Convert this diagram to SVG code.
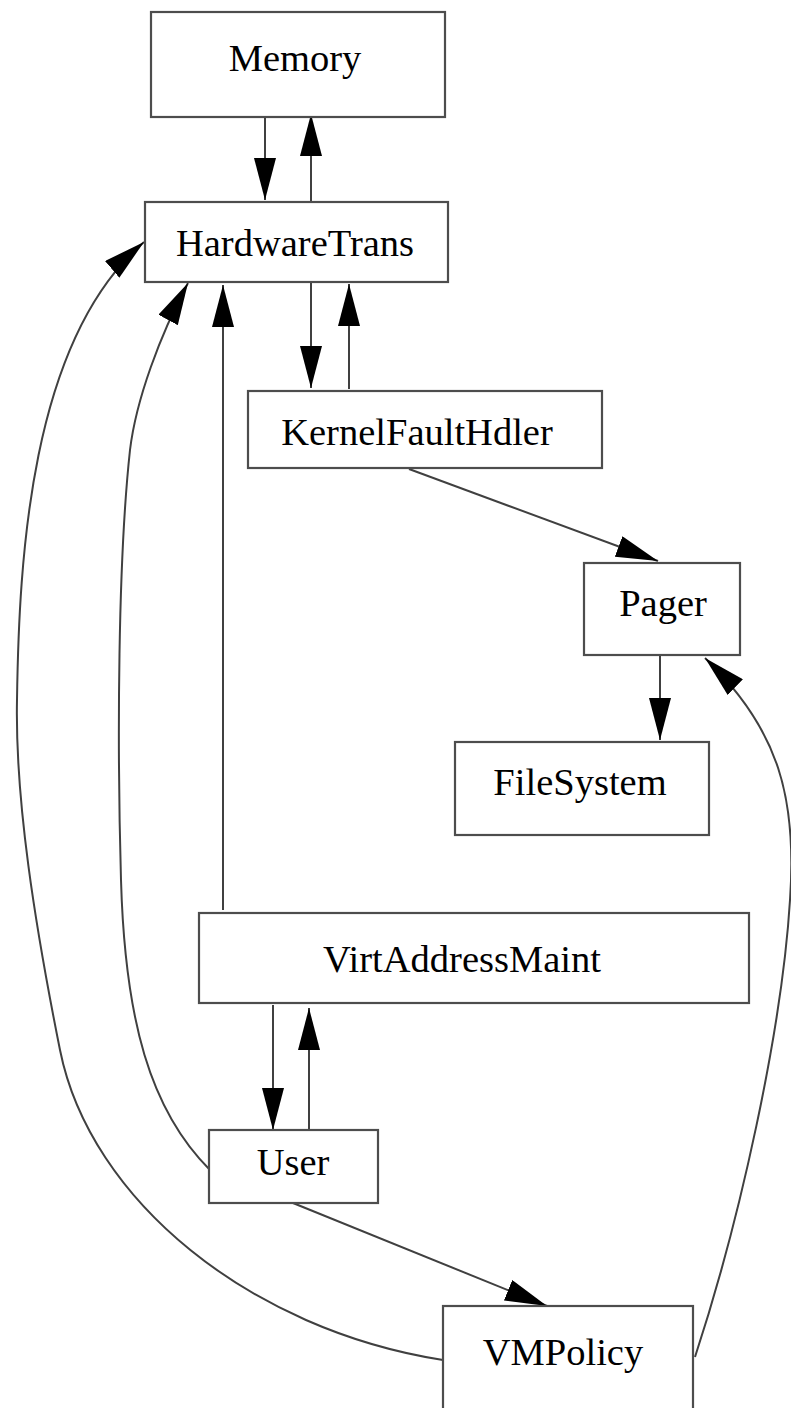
<svg xmlns="http://www.w3.org/2000/svg" width="791" height="1408" viewBox="0 0 791 1408">
<style>
.box{fill:#fff;stroke:#4d4d4d;stroke-width:2.2}
.lbl{font-family:"Liberation Serif","Times New Roman",serif;font-size:38.5px;fill:#000;text-anchor:middle}
.edge{fill:none;stroke:#404040;stroke-width:2}
</style>
<defs>
<marker id="ah" viewBox="0 0 42 22" refX="42" refY="11" markerWidth="42" markerHeight="22" markerUnits="userSpaceOnUse" orient="auto">
<path d="M0,0 L42,11 L0,22 Z" fill="#000"/>
</marker>
</defs>
<rect width="791" height="1408" fill="#fff"/>
<g id="connectors">
<path class="edge" marker-end="url(#ah)" d="M265,117 L265,200"/>
<path class="edge" marker-end="url(#ah)" d="M311,202 L311,114"/>
<path class="edge" marker-end="url(#ah)" d="M311,282 L311,388"/>
<path class="edge" marker-end="url(#ah)" d="M349,389 L349,284"/>
<path class="edge" marker-end="url(#ah)" d="M409,469 L658,561"/>
<path class="edge" marker-end="url(#ah)" d="M660,656 L660,740"/>
<path class="edge" marker-end="url(#ah)" d="M695,1357 C740,1220 782,1030 790,900 C797,800 780,730 705,658"/>
<path class="edge" marker-end="url(#ah)" d="M223,910 L223,285"/>
<path class="edge" marker-end="url(#ah)" d="M210,1170 C150,1110 125,1020 121,880 C117,740 118,560 130,450 C136,400 160,335 188,283"/>
<path class="edge" marker-end="url(#ah)" d="M443,1360 C250,1330 90,1200 60,1050 C35,925 15,800 17,700 C19,560 30,340 144,242"/>
<path class="edge" marker-end="url(#ah)" d="M273,1005 L273,1130"/>
<path class="edge" marker-end="url(#ah)" d="M309,1130 L309,1008"/>
<path class="edge" marker-end="url(#ah)" d="M293,1203 L547,1306"/>
</g>
<g id="Memory"><rect class="box" x="151" y="12" width="294" height="105"/><text class="lbl" x="295" y="71">Memory</text></g>
<g id="HardwareTrans"><rect class="box" x="145" y="202" width="303" height="80"/><text class="lbl" x="295" y="256">HardwareTrans</text></g>
<g id="KernelFaultHdler"><rect class="box" x="248" y="391" width="354" height="77"/><text class="lbl" x="417" y="445">KernelFaultHdler</text></g>
<g id="Pager"><rect class="box" x="584" y="563" width="156" height="92"/><text class="lbl" x="663" y="616">Pager</text></g>
<g id="FileSystem"><rect class="box" x="455" y="742" width="254" height="93"/><text class="lbl" x="580" y="795">FileSystem</text></g>
<g id="VirtAddressMaint"><rect class="box" x="199" y="913" width="550" height="90"/><text class="lbl" x="462" y="972">VirtAddressMaint</text></g>
<g id="User"><rect class="box" x="209" y="1130" width="169" height="73"/><text class="lbl" x="293" y="1175">User</text></g>
<g id="VMPolicy"><rect class="box" x="443" y="1306" width="250" height="115"/><text class="lbl" x="563" y="1365">VMPolicy</text></g>
</svg>
